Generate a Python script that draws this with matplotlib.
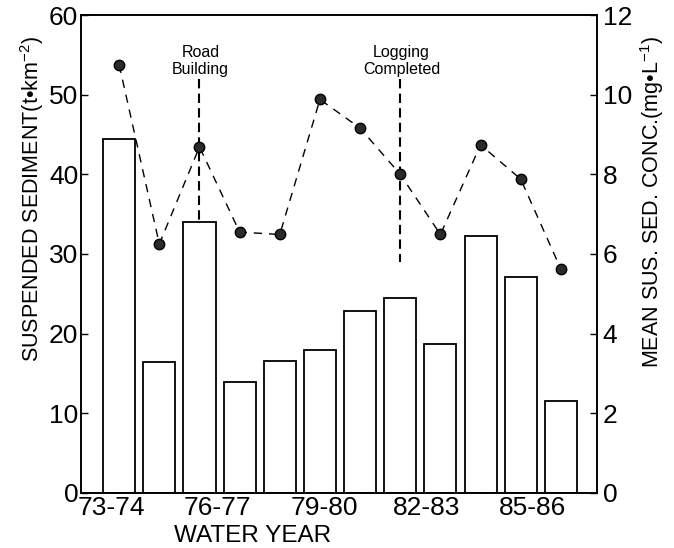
import matplotlib
matplotlib.use("Agg")
import matplotlib.pyplot as plt


WATER_YEARS = [
    "73-74", "74-75", "75-76", "76-77", "77-78", "78-79",
    "79-80", "80-81", "81-82", "82-83", "83-84", "84-85",
]

# suspended sediment yield, t/km2 (bars, left axis)
SEDIMENT = [44.4, 16.4, 34.0, 13.9, 16.6, 17.9, 22.8, 24.5, 18.7, 32.3, 27.1, 11.6]

# mean suspended sediment concentration, mg/L (dots, right axis)
CONC = [10.75, 6.25, 8.69, 6.55, 6.49, 9.88, 9.16, 8.0, 6.49, 8.74, 7.88, 5.62]

TICK_LABELS = ["73-74", "76-77", "79-80", "82-83", "85-86"]

# events marked by vertical dashed lines: (index of water year, text, lower end)
EVENTS = [
    (2, "Road\nBuilding", 34.0),
    (7, "Logging\nCompleted", 29.0),
]

# label positions in the original are shifted against the tick marks
LABEL_POS = [-0.2, 2.45, 5.1, 7.65, 10.3]
TICK_POS = [0, 3, 6, 9]

plt.rcParams["font.family"] = ["Liberation Sans", "DejaVu Sans"]
plt.rcParams["mathtext.fontset"] = "custom"
plt.rcParams["mathtext.rm"] = "Liberation Sans"
plt.rcParams["mathtext.it"] = "Liberation Sans:italic"


def main():
    fig = plt.figure(figsize=(6.74, 5.48), dpi=100)
    ax = fig.add_axes([0.1202, 0.1004, 0.7656, 0.8722])

    positions = list(range(len(WATER_YEARS)))

    ax.bar(
        positions,
        SEDIMENT,
        width=0.8,
        facecolor="white",
        edgecolor="black",
        linewidth=1.3,
        zorder=2,
    )

    for index, text, low in EVENTS:
        ax.plot(
            [index, index],
            [52.0, low],
            color="black",
            linewidth=1.5,
            linestyle=(0, (4.5, 2.5)),
            zorder=3,
        )
        ax.text(
            index + 0.03,
            54.2,
            text,
            ha="center",
            va="center",
            fontsize=11.5,
            linespacing=1.15,
        )

    ax.set_xlim(-0.95, 11.9)
    ax.set_ylim(0, 60)
    ax.set_yticks([0, 10, 20, 30, 40, 50, 60])

    ax.set_xticks(LABEL_POS)
    ax.set_xticklabels(TICK_LABELS)
    ax.set_xticks(TICK_POS, minor=True)
    ax.tick_params(axis="x", which="major", length=0, pad=2, labelsize=19)
    ax.tick_params(axis="x", which="minor", direction="in", length=4, width=1)
    ax.tick_params(axis="y", direction="in", length=5, width=1, pad=2, labelsize=19)

    ax.set_xlabel("WATER YEAR", fontsize=17.5)
    ax.set_ylabel("SUSPENDED SEDIMENT(t\u2022km$^{-2}$)", fontsize=15.5)
    ax.xaxis.set_label_coords(0.333, -0.068)
    ax.yaxis.set_label_coords(-0.068, 0.616)

    ax2 = ax.twinx()
    ax2.plot(
        positions,
        CONC,
        color="black",
        linewidth=1.0,
        linestyle=(0, (6, 5)),
        marker="o",
        markersize=7.5,
        markerfacecolor="#2a2a2a",
        markeredgecolor="black",
        zorder=4,
    )
    ax2.set_ylim(0, 12)
    ax2.set_yticks([0, 2, 4, 6, 8, 10, 12])
    ax2.tick_params(axis="y", direction="in", length=5, width=1, pad=4, labelsize=19)
    ax2.set_ylabel("MEAN SUS. SED. CONC.(mg\u2022L$^{-1}$)", fontsize=15.5)
    ax2.yaxis.set_label_coords(1.08, 0.608)

    for axis in (ax, ax2):
        for spine in axis.spines.values():
            spine.set_linewidth(1.2)

    fig.savefig("out.png", dpi=100)
    plt.close(fig)


if __name__ == "__main__":
    main()
